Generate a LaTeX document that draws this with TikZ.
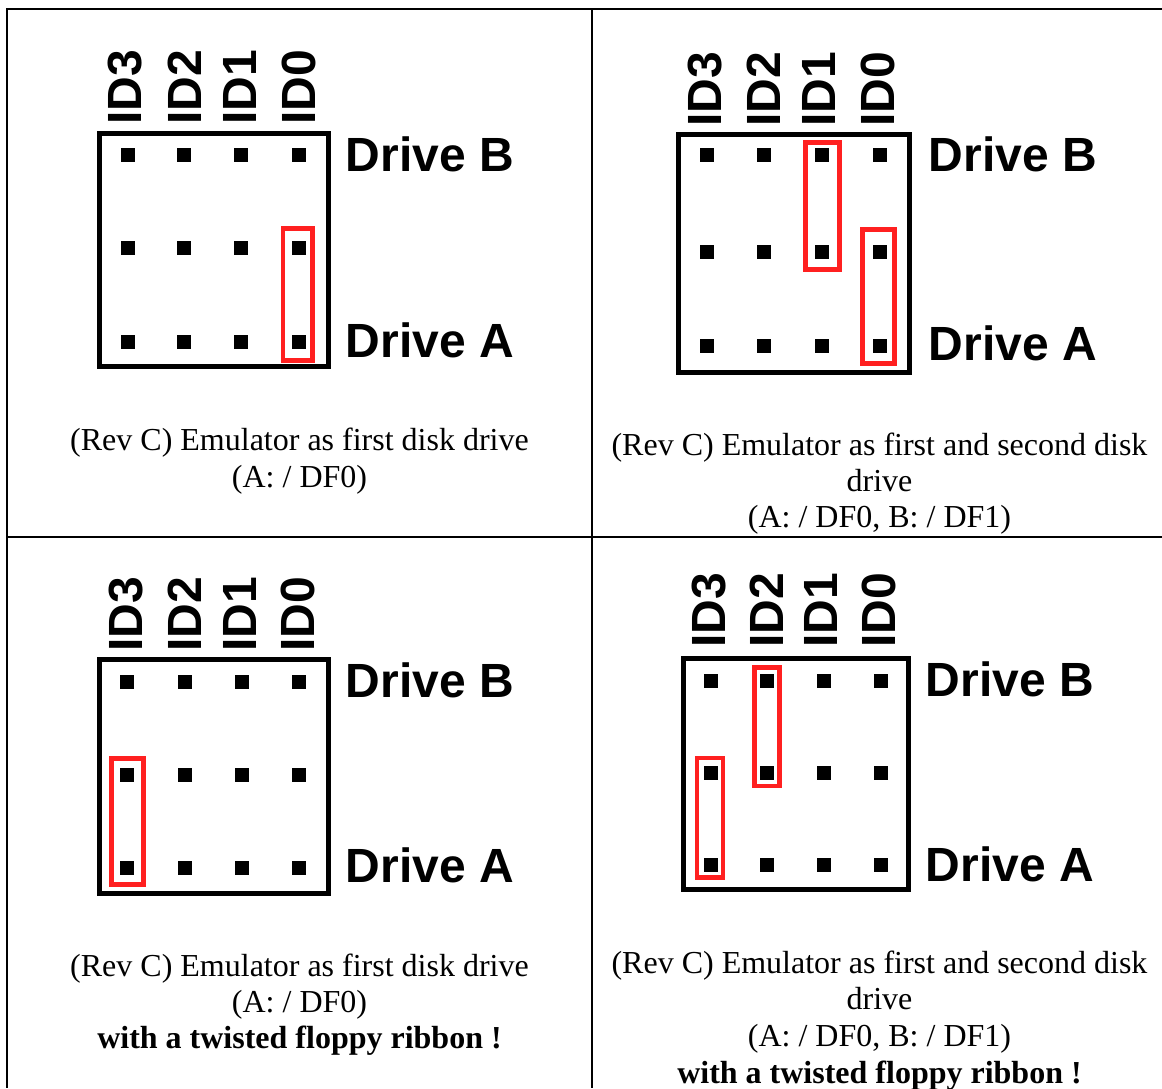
\documentclass[tikz,border=0pt]{standalone}
\usepackage{fontspec}
\setmainfont{Liberation Serif}
\newfontfamily\headfont{Liberation Sans}
\definecolor{jumperred}{RGB}{255,32,32}
\tikzset{
  tableline/.style={line width=2.5pt},
  header/.style={line width=5pt},
  jumper/.style={draw=jumperred,line width=4.5pt},
  contact/.style={fill=black,inner sep=0pt,minimum size=14pt},
  idtext/.style={rotate=90,anchor=west,inner sep=0pt,font=\headfont\bfseries\fontsize{48}{48}\selectfont},
  drivetext/.style={anchor=base west,inner sep=0pt,font=\headfont\bfseries\fontsize{48}{48}\selectfont},
  captext/.style={anchor=base,inner sep=0pt,font=\fontsize{32}{36}\selectfont},
  capbold/.style={anchor=base,inner sep=0pt,font=\bfseries\fontsize{32}{36}\selectfont},
}

\begin{document}
\begin{tikzpicture}[x=1pt,y=-1pt]
\useasboundingbox (0,0) rectangle (1162,1088);
% table
\coordinate (tabnw) at (7,9);
\coordinate (tabne) at (1162,9);
\coordinate (tabsw) at (7,1088);
\coordinate (midn) at (592,9);
\coordinate (mids) at (592,1088);
\coordinate (midw) at (7,537);
\coordinate (mide) at (1162,537);
\draw[tableline] (tabne)--(tabnw)--(tabsw);
\draw[tableline] (midn)--(mids);
\draw[tableline] (midw)--(mide);

% top left: first drive
\draw[header] (99,133) rectangle (328,366);
\foreach \n/\x in {3/127.5,2/184,1/241,0/299}
  \foreach \r/\y in {b/155,m/248.3,a/341.7}
    \node[contact] (tl\n\r) at (\x,\y) {};
\draw[jumper] (283,228.3) rectangle (312.7,360.4);
\node[idtext] (tlid3) at (125.5,125) {ID3};
\node[idtext] (tlid2) at (184.5,125) {ID2};
\node[idtext] (tlid1) at (239.5,125) {ID1};
\node[idtext] (tlid0) at (299,125) {ID0};
\node[drivetext] (tldrvb) at (345.5,171) {Drive B};
\node[drivetext] (tldrva) at (345.5,357) {Drive A};
\node[captext] (tlcap1) at (299.5,450) {(Rev C) Emulator as first disk drive};
\node[captext] (tlcap2) at (299.5,487) {(A: / DF0)};

% top right: first and second drive
\draw[header] (678,134.3) rectangle (909,372);
\foreach \n/\x in {3/706.7,2/764.3,1/822.3,0/880.2}
  \foreach \r/\y in {b/155,m/251.7,a/345.7}
    \node[contact] (tr\n\r) at (\x,\y) {};
\draw[jumper] (805.3,142.3) rectangle (839.5,269.5);
\draw[jumper] (862.6,229.6) rectangle (894.4,363.7);
\node[idtext] (trid3) at (705,127) {ID3};
\node[idtext] (trid2) at (763.3,127) {ID2};
\node[idtext] (trid1) at (819,127) {ID1};
\node[idtext] (trid0) at (878,127) {ID0};
\node[drivetext] (trdrvb) at (928.5,171) {Drive B};
\node[drivetext] (trdrva) at (928.5,360) {Drive A};
\node[captext] (trcap1) at (879.5,455) {(Rev C) Emulator as first and second disk};
\node[captext] (trcap2) at (879.5,491) {drive};
\node[captext] (trcap3) at (879.5,527) {(A: / DF0, B: / DF1)};

% bottom left: twisted ribbon, first drive
\draw[header] (99,659) rectangle (328,893.7);
\foreach \n/\x in {3/127,2/185,1/242,0/299}
  \foreach \r/\y in {b/682,m/775,a/868}
    \node[contact] (bl\n\r) at (\x,\y) {};
\draw[jumper] (111.6,758.3) rectangle (143.7,884.4);
\node[idtext] (blid3) at (125.8,652) {ID3};
\node[idtext] (blid2) at (184.5,652) {ID2};
\node[idtext] (blid1) at (239.5,652) {ID1};
\node[idtext] (blid0) at (298,652) {ID0};
\node[drivetext] (bldrvb) at (345.5,697) {Drive B};
\node[drivetext] (bldrva) at (345.5,882) {Drive A};
\node[captext] (blcap1) at (299.5,976) {(Rev C) Emulator as first disk drive};
\node[captext] (blcap2) at (299.5,1012) {(A: / DF0)};
\node[capbold] (blcap3) at (299.5,1048) {with a twisted floppy ribbon !};

% bottom right: twisted ribbon, first and second drive
\draw[header] (683,658) rectangle (908,889.5);
\foreach \n/\x in {3/710.7,2/767.3,1/824,0/880.7}
  \foreach \r/\y in {b/680.7,m/773.3,a/865.3}
    \node[contact] (br\n\r) at (\x,\y) {};
\draw[jumper] (754.5,667.5) rectangle (779.5,785.8);
\draw[jumper] (696.8,758.2) rectangle (723.2,877.5);
\node[idtext] (brid3) at (708.7,648) {ID3};
\node[idtext] (brid2) at (766.7,648) {ID2};
\node[idtext] (brid1) at (821,648) {ID1};
\node[idtext] (brid0) at (879.3,648) {ID0};
\node[drivetext] (brdrvb) at (925.5,696) {Drive B};
\node[drivetext] (brdrva) at (925.5,881) {Drive A};
\node[captext] (brcap1) at (879.5,973) {(Rev C) Emulator as first and second disk};
\node[captext] (brcap2) at (879.5,1009) {drive};
\node[captext] (brcap3) at (879.5,1046) {(A: / DF0, B: / DF1)};
\node[capbold] (brcap4) at (879.5,1083) {with a twisted floppy ribbon !};
\end{tikzpicture}
\end{document}
